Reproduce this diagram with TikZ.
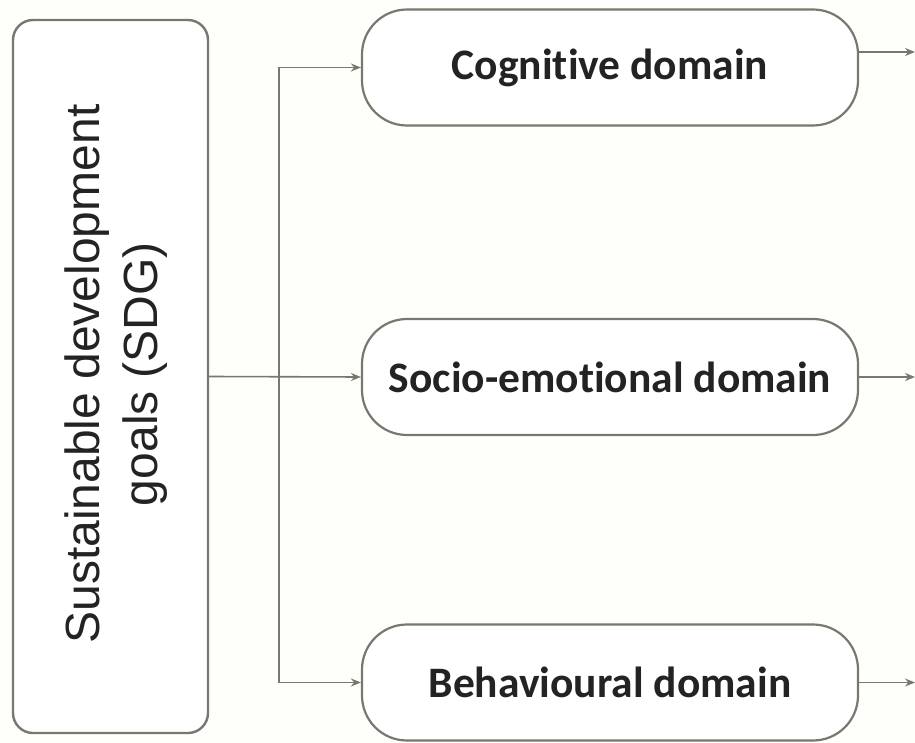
\documentclass[tikz,border=0pt]{standalone}
\usepackage{fontspec}
\setmainfont{Liberation Sans}
\newfontfamily\carlito[Ligatures=NoCommon]{Carlito}
\usetikzlibrary{arrows.meta}
\definecolor{edgec}{RGB}{120,120,110}
\definecolor{bgc}{RGB}{254,254,251}
\definecolor{txtc}{RGB}{35,35,35}
\tikzset{
  sdgbox/.style={draw=edgec, line width=2.4pt, rounded corners=20pt, fill=white,
    minimum width=195pt, minimum height=713pt, inner sep=0pt},
  sdgtext/.style={rotate=90, align=center, text=txtc, font=\fontsize{48}{58}\selectfont},
  dombox/.style={draw=edgec, line width=2.2pt, rounded corners=45pt, fill=white,
    minimum width=496pt, minimum height=116pt, inner sep=0pt, text=txtc,
    font=\carlito\bfseries\fontsize{43.5}{50}\selectfont},
  arr/.style={draw=edgec, line width=1.6pt, -{Stealth[length=10pt,width=8pt]}},
  ln/.style={draw=edgec, line width=1.6pt}
}
\begin{document}
\begin{tikzpicture}[x=1pt,y=-1pt]
\fill[bgc] (0,0) rectangle (915,743);
\useasboundingbox (0,0) rectangle (915,743);
\node[sdgbox] (sdg) at (110.5,376.5) {};
\node[sdgtext] (sdgt) at (116,374) {Sustainable development\\goals (SDG)};
\node[dombox] (cog) at (610,67.5) {Cognitive domain};
\node[dombox] (soc) at (610,377) {Socio-emotional domain};
\node[dombox] (beh) at (610,682.5) {Behavioural domain};
\coordinate (busx) at (279,0);
\coordinate (cogend) at (915,52);
\coordinate (socend) at (915,377);
\coordinate (behend) at (915,682.5);
\draw[arr] (sdg.east) -- (soc.west);
\draw[ln] (beh.west -| busx) -- (cog.west -| busx);
\draw[arr] (cog.west -| busx) -- (cog.west);
\draw[arr] (beh.west -| busx) -- (beh.west);
\draw[arr] (cog.east |- cogend) -- (cogend);
\draw[arr] (soc.east) -- (socend);
\draw[arr] (beh.east) -- (behend);
\end{tikzpicture}
\end{document}
